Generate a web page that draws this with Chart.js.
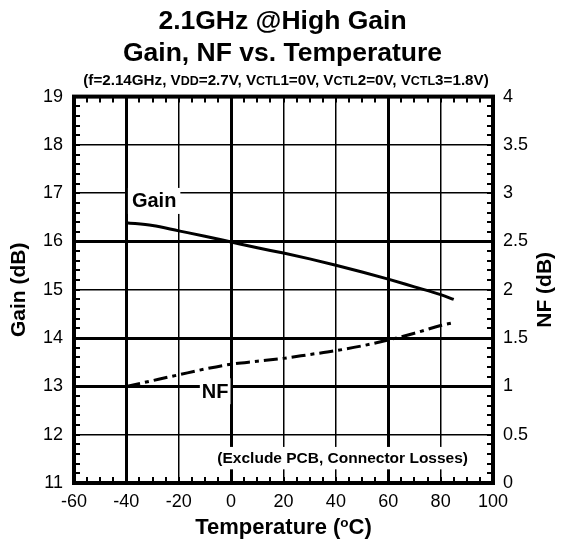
<!DOCTYPE html>
<html><head><meta charset="utf-8">
<script src="https://cdn.jsdelivr.net/npm/chart.js@4/dist/chart.umd.min.js"></script>
<style>html,body{margin:0;padding:0;background:#fff}#wrap{width:565px;height:543px;position:relative}</style>
</head><body><div id="wrap"><canvas id="c"></canvas></div>
<script>
// ---- data ----
const temperatures = [-40,-30,-20,-10,0,10,20,30,40,50,60,70,80,85];
const gainValues   = [16.39,16.33,16.22,16.11,15.99,15.87,15.76,15.64,15.51,15.37,15.22,15.06,14.90,14.80];
const nfValues     = [1.00,1.06,1.12,1.18,1.23,1.26,1.29,1.33,1.37,1.42,1.48,1.55,1.63,1.66];
const xTickValues    = [-60,-40,-20,0,20,40,60,80,100];
const gainTickValues = [11,12,13,14,15,16,17,18,19];
const nfTickValues   = [0,0.5,1,1.5,2,2.5,3,3.5,4];
const thickX = [-40,0,60];
const thickY = [16,14,13];
const titleLines = ['2.1GHz @High Gain','Gain, NF vs. Temperature'];
const subtitleParts = [['(f=2.14GHz, V',0],['DD',1],['=2.7V, V',0],['CTL',1],['1=0V, V',0],['CTL',1],['2=0V, V',0],['CTL',1],['3=1.8V)',0]];
const xTitleParts = [['Temperature (',0],['o',1],['C)',0]];
const yTitle = 'Gain (dB)';
const y2Title = 'NF (dB)';
const gainLabel = {text:'Gain', x:-29.4, y:16.84};
const nfLabel   = {text:'NF', x:-6.1, y:0.95};
const noteLabel = {text:'(Exclude PCB, Connector Losses)', x:42.6, y:11.515};

const FAM = '"Liberation Sans", Arial, sans-serif';
Chart.defaults.font.family = FAM;
Chart.defaults.color = '#000';

const decor = {
  id:'decor',
  afterDraw(chart){
    const {ctx, chartArea:a, scales:{x,y,y2}} = chart;
    ctx.save();
    const boxLabel = (lab, yScale, size, padX, padY) => {
      const px = x.getPixelForValue(lab.x), py = yScale.getPixelForValue(lab.y);
      ctx.font = 'bold '+size+'px '+FAM;
      const w = ctx.measureText(lab.text).width;
      const h = size*0.8;
      ctx.fillStyle = '#fff';
      ctx.fillRect(px-w/2-padX, py-h/2-padY, w+2*padX, h+2*padY);
      ctx.fillStyle = '#000'; ctx.textAlign='center'; ctx.textBaseline='middle';
      ctx.fillText(lab.text, px, py+1);
    };
    boxLabel(gainLabel, y, 20, 4, 5);
    boxLabel(nfLabel, y2, 20, 2, 5);
    boxLabel(noteLabel, y, 15.5, 2, 5);
    ctx.strokeStyle = '#000'; ctx.lineWidth = 2;
    ctx.beginPath();
    for (let v = -60; v <= 100; v += 5) {
      const px = Math.round(x.getPixelForValue(v));
      ctx.moveTo(px, a.bottom); ctx.lineTo(px, a.bottom-6);
      ctx.moveTo(px, a.top); ctx.lineTo(px, a.top+6);
    }
    for (let i = 0; i <= 40; i++) {
      const py = Math.round(y.getPixelForValue(11 + i*0.2));
      ctx.moveTo(a.left, py); ctx.lineTo(a.left+6, py);
      const py2 = Math.round(y2.getPixelForValue(i*0.1));
      ctx.moveTo(a.right, py2); ctx.lineTo(a.right-6, py2);
    }
    ctx.stroke();
    ctx.lineWidth = 4;
    ctx.strokeRect(a.left, a.top, a.right-a.left, a.bottom-a.top);
    const rich = (parts, cx, base, big, small, lift) => {
      let total = 0;
      parts.forEach(([t,s]) => { ctx.font = 'bold '+(s?small:big)+'px '+FAM; total += ctx.measureText(t).width; });
      let xx = cx - total/2;
      ctx.textAlign = 'left'; ctx.textBaseline = 'alphabetic'; ctx.fillStyle = '#000';
      parts.forEach(([t,s]) => {
        ctx.font = 'bold '+(s?small:big)+'px '+FAM;
        ctx.fillText(t, xx, base - (s?lift:0));
        xx += ctx.measureText(t).width;
      });
    };
    rich(subtitleParts, 286, 85, 15.2, 12.5, 0);
    rich(xTitleParts, (a.left+a.right)/2, 534, 22, 13.5, 7.5);
    ctx.save();
    ctx.translate(545, (a.top+a.bottom)/2);
    ctx.rotate(-Math.PI/2);
    ctx.font = 'bold 21px '+FAM; ctx.textAlign='center'; ctx.textBaseline='middle';
    ctx.fillText(y2Title, 0, 0);
    ctx.restore();
    ctx.restore();
  }
};

new Chart(document.getElementById('c'), {
  type:'line',
  data:{
    datasets:[
      {label:'Gain', data:temperatures.map((t,i)=>({x:t,y:gainValues[i]})), yAxisID:'y',
       borderColor:'#000', borderWidth:3, pointRadius:0, cubicInterpolationMode:'monotone', fill:false},
      {label:'NF', data:temperatures.map((t,i)=>({x:t,y:nfValues[i]})), yAxisID:'y2',
       borderColor:'#000', borderWidth:3, borderDash:[14,5,4,5], pointRadius:0, cubicInterpolationMode:'monotone', fill:false}
    ]
  },
  options:{
    responsive:true, maintainAspectRatio:false, animation:false, devicePixelRatio:1,
    layout:{padding:0},
    plugins:{
      legend:{display:false}, tooltip:{enabled:false},
      title:{display:true, text:titleLines, color:'#000', font:{size:26.5, weight:'bold'}, padding:{top:6,bottom:27}}
    },
    scales:{
      x:{type:'linear', min:-60, max:100,
         afterBuildTicks:s=>{s.ticks = xTickValues.map(v=>({value:v}));},
         afterFit:s=>{s.height = 60;},
         ticks:{font:{size:18}, color:'#000', padding:8, maxRotation:0, autoSkip:false},
         grid:{color:'#000', drawTicks:false, lineWidth:c=>thickX.includes(c.tick.value)?3:1.5},
         border:{display:false}},
      y:{type:'linear', position:'left', min:11, max:19,
         afterBuildTicks:s=>{s.ticks = gainTickValues.map(v=>({value:v}));},
         afterFit:s=>{s.width = 74;},
         ticks:{font:{size:18}, color:'#000', padding:11},
         grid:{color:'#000', drawTicks:false, lineWidth:c=>thickY.includes(c.tick.value)?3:1.5},
         border:{display:false},
         title:{display:true, text:yTitle, color:'#000', font:{size:21, weight:'bold'}, padding:{top:7,bottom:0}}},
      y2:{type:'linear', position:'right', min:0, max:4,
         afterBuildTicks:s=>{s.ticks = nfTickValues.map(v=>({value:v}));},
         afterFit:s=>{s.width = 72;},
         ticks:{font:{size:18}, color:'#000', padding:10, callback:v=>String(v)},
         grid:{display:false, drawTicks:false},
         border:{display:false}}
    }
  },
  plugins:[decor]
});
</script></body></html>
